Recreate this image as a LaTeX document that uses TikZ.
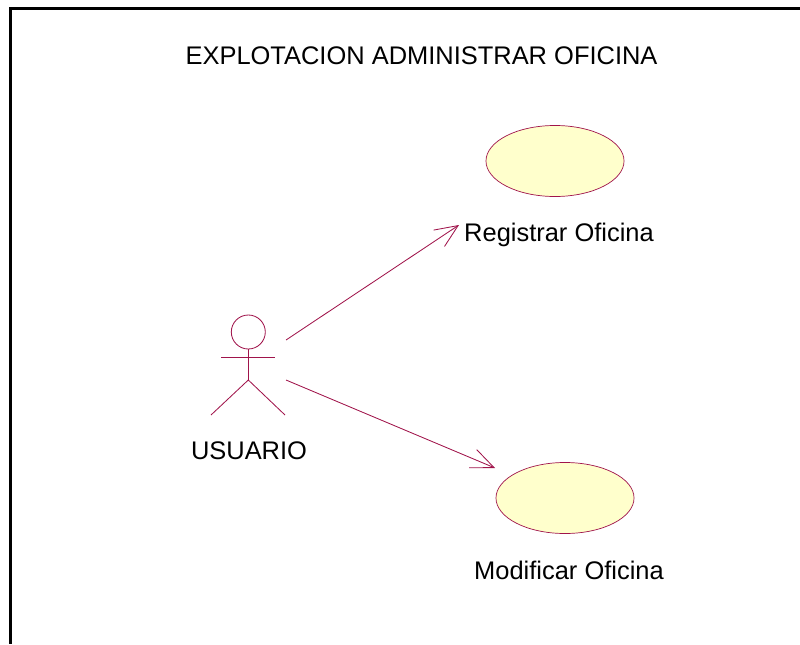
\documentclass[tikz,border=0pt]{standalone}
\usepackage{fontspec}
\setmainfont{Liberation Sans}
\usetikzlibrary{arrows.meta,shapes.geometric}
\definecolor{umlline}{RGB}{160,20,75}
\definecolor{umlfill}{RGB}{255,255,204}
\tikzset{
  usecase/.style={ellipse,draw=umlline,fill=umlfill,line width=0.5pt,minimum width=3.45cm,minimum height=1.775cm,inner sep=0pt},
  actorline/.style={draw=umlline,line width=0.6pt},
  assoc/.style={draw=umlline,line width=0.6pt,-{Straight Barb[length=16.3pt,width=14pt,line width=0.6pt]}},
  umltext/.style={font=\fontsize{18.1pt}{21pt}\selectfont,text=black,inner sep=0pt}
}
\begin{document}
\begin{tikzpicture}[x=0.025cm,y=-0.025cm]
 \useasboundingbox (0,0) rectangle (800,644);
 \coordinate (frametop) at (800,8.5);
 \coordinate (framecorner) at (10.5,8.5);
 \coordinate (framebottom) at (10.5,644);
 \draw[line width=2.1pt] (frametop) -- (framecorner) -- (framebottom);

 \node[umltext] (title) at (421.5,56){EXPLOTACION ADMINISTRAR OFICINA};

 \node[usecase] (registrar) at (555,161){};
 \node[usecase] (modificar) at (565,498){};
 \node[umltext] (registrarlabel) at (559,235){Registrar Oficina};
 \node[umltext] (modificarlabel) at (569,570.5){Modificar Oficina};

 % actor
 \node[circle,actorline,minimum size=0.85cm,inner sep=0pt] (head) at (248.3,332){};
 \coordinate (hip) at (248.3,380);
 \coordinate (armleft) at (221,357);
 \coordinate (armright) at (275,357);
 \coordinate (legleft) at (211,415);
 \coordinate (legright) at (285,415);
 \draw[actorline,line width=1pt] (head.south) -- (hip);
 \draw[actorline] (armleft) -- (armright);
 \draw[actorline] (legleft) -- (hip) -- (legright);
 \node[umltext] (usuario) at (249,451){USUARIO};

 \coordinate (fromtop) at (286,340);
 \coordinate (totop) at (459,225);
 \coordinate (frombottom) at (286,380);
 \coordinate (tobottom) at (495,468);
 \draw[assoc] (fromtop) -- (totop);
 \draw[assoc] (frombottom) -- (tobottom);
\end{tikzpicture}
\end{document}
